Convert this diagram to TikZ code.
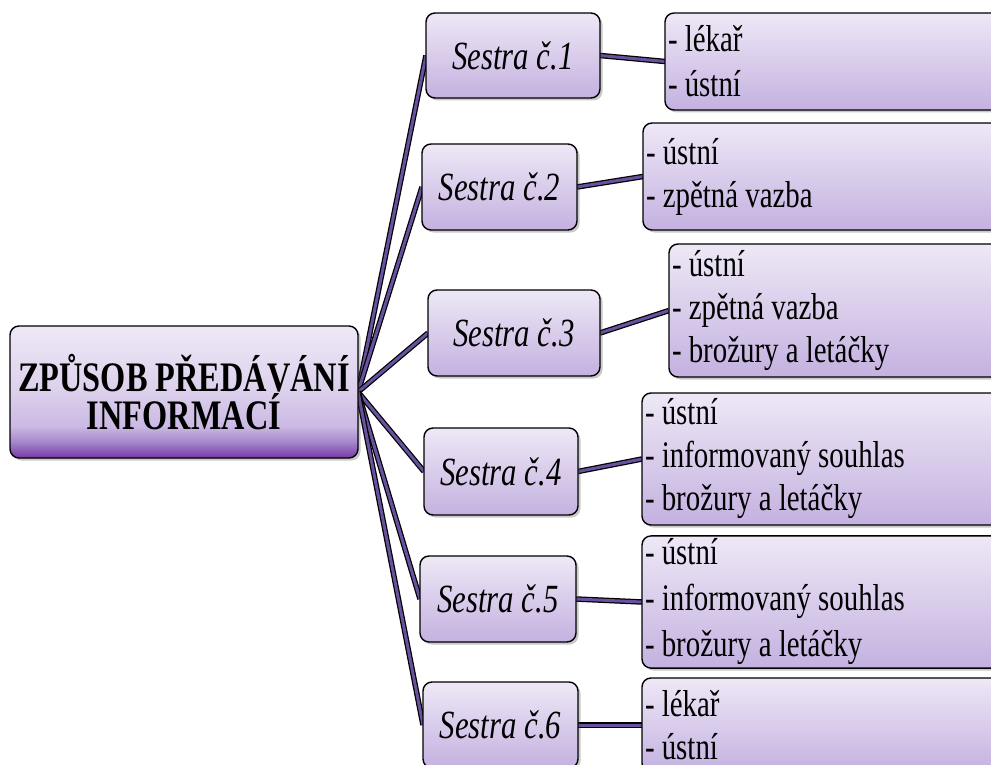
\documentclass[tikz,border=0pt]{standalone}
\usepackage{fontspec}
\setmainfont{Liberation Serif}[FakeStretch=0.77]
\usetikzlibrary{shadows}

\definecolor{linkpurple}{HTML}{6852A0}
\definecolor{boxtop}{HTML}{EEE8F6}
\definecolor{boxbottom}{HTML}{C4B1E0}
\definecolor{rootdark}{HTML}{7638A4}
\definecolor{rootmid}{HTML}{A486CB}
\definecolor{rootlight}{HTML}{CBB9E3}
\definecolor{rootcenter}{HTML}{DCD0EC}

% vertical fill of the root box: deep violet at the foot, lavender above
\pgfdeclareverticalshading{rootshade}{100bp}{color(0bp)=(rootdark); color(25bp)=(rootdark); color(31bp)=(rootmid); color(37bp)=(rootlight); color(50bp)=(rootcenter); color(75bp)=(boxtop); color(100bp)=(boxtop)}

\pgfdeclarelayer{links}
\pgfsetlayers{links,main}

\tikzset{
  basebox/.style={draw=black, line width=1.4pt, rounded corners=9pt,
    drop shadow={shadow xshift=2.5pt, shadow yshift=-2.5pt, opacity=0.3, fill=black!70},
    inner sep=3pt, outer sep=0pt},
  rootbox/.style={basebox, shading=rootshade, align=center,
    font=\fontsize{42}{38}\selectfont\bfseries},
  nursebox/.style={basebox, top color=boxtop, bottom color=boxbottom,
    font=\fontsize{40}{40}\selectfont\itshape},
  listbox/.style={basebox, top color=boxtop, bottom color=boxbottom, align=flush left,
    font=\fontsize{37.5}{43}\selectfont},
  link/.style={draw=black, line width=5.5pt,
    postaction={draw=linkpurple, line width=3pt}}
}

\begin{document}
\begin{tikzpicture}[x=1pt, y=-1pt]
\useasboundingbox (0,0) rectangle (991,765);
\clip (0,0) rectangle (991,765);

% central topic
\node[rootbox, minimum width=348pt, minimum height=132pt] (root) at (184,392)
  {ZPŮSOB PŘEDÁVÁNÍ\\INFORMACÍ};

% nurses
\node[nursebox, minimum width=174pt, minimum height=85pt] (s1) at (513,55.5) {Sestra č.1};
\node[nursebox, minimum width=155pt, minimum height=86pt] (s2) at (499.5,187) {Sestra č.2};
\node[nursebox, minimum width=172pt, minimum height=86pt] (s3) at (514,333) {Sestra č.3};
\node[nursebox, minimum width=154pt, minimum height=87pt] (s4) at (501,471.5) {Sestra č.4};
\node[nursebox, minimum width=156pt, minimum height=86pt] (s5) at (498,599) {Sestra č.5};
\node[nursebox, minimum width=155pt, minimum height=86pt] (s6) at (500.5,725) {Sestra č.6};

% ways of passing information
\node[listbox, minimum width=345pt, text width=339pt, minimum height=97pt,
      font=\fontsize{37.5}{45}\selectfont] (r1) at (837.5,61.5)
  {- lékař\\- ústní};
\node[listbox, minimum width=367pt, text width=361pt, minimum height=107pt] (r2) at (826.5,176.5)
  {- ústní\\- zpětná vazba};
\node[listbox, minimum width=341pt, text width=335pt, minimum height=133pt] (r3) at (839.5,310.5)
  {- ústní\\- zpětná vazba\\- brožury a letáčky};
\node[listbox, minimum width=368pt, text width=362pt, minimum height=132pt] (r4) at (826,459)
  {- ústní\\- informovaný souhlas\\- brožury a letáčky};
\node[listbox, minimum width=368pt, text width=362pt, minimum height=130pt,
      font=\fontsize{37.5}{46}\selectfont] (r5) at (826,602)
  {- ústní\\- informovaný souhlas\\- brožury a letáčky};
\node[listbox, minimum width=368pt, text width=362pt, minimum height=94pt] (r6) at (826,725)
  {- lékař\\- ústní};

% connectors, kept beneath the boxes
\begin{pgfonlayer}{links}
  \foreach \n in {1,...,6} {
    \path[link] (root.east) -- (s\n.west);
    \path[link] (s\n.east) -- (r\n.west);
  }
\end{pgfonlayer}
\end{tikzpicture}
\end{document}
